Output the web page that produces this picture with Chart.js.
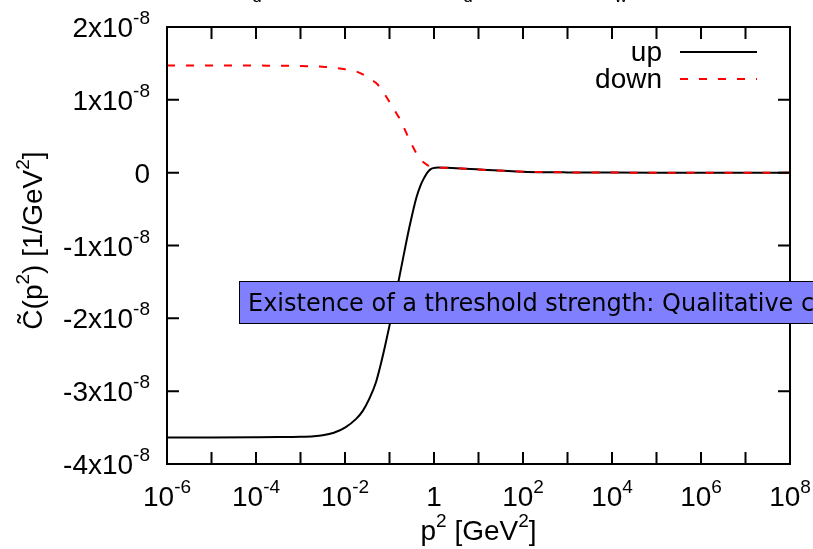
<!DOCTYPE html>
<html>
<head>
<meta charset="utf-8">
<script src="https://cdn.jsdelivr.net/npm/chart.js@4/dist/chart.umd.min.js"></script>
<style>
  html, body { margin: 0; padding: 0; background: #fff; }
  #wrap { width: 813px; height: 549px; overflow: hidden; }
</style>
</head>
<body>
<div id="wrap"><canvas id="chart" width="813" height="549"></canvas></div>
<script>
// sample positions, log10 of p^2 [GeV^2]
const logP2 = [-6, -5, -4, -3.5, -3, -2.7, -2.5, -2.25, -2, -1.75, -1.6, -1.45, -1.3, -1.2, -1.1, -1,
  -0.9, -0.8, -0.7, -0.55, -0.4, -0.3, -0.22, -0.15, -0.08, -0.02, 0.1, 0.3, 0.7, 1.2, 2, 2.5, 3, 4, 5, 6, 7, 8];
// C~(p^2) in units of 1e-8 / GeV^2
const upValues = [-3.635, -3.635, -3.633, -3.631, -3.626, -3.618, -3.605, -3.57, -3.5, -3.38, -3.27, -3.1,
  -2.87, -2.64, -2.38, -2.10, -1.81, -1.50, -1.19, -0.74, -0.35, -0.17, -0.07, 0.0, 0.045, 0.062, 0.07, 0.066, 0.055,
  0.037, 0.014, 0.007, 0.004, 0.001, 0, 0, 0, 0];
const downValues = [1.47, 1.47, 1.47, 1.468, 1.465, 1.46, 1.455, 1.44, 1.42, 1.39, 1.35, 1.29,
  1.23, 1.16, 1.07, 0.97, 0.87, 0.77, 0.65, 0.45, 0.27, 0.18, 0.135, 0.105, 0.085, 0.075, 0.07, 0.066, 0.055,
  0.037, 0.014, 0.007, 0.004, 0.001, 0, 0, 0, 0];

const seriesNames = ["up", "down"];
const xTickExponents = [-6, -4, -2, 0, 2, 4, 6, 8];
const xMinorExponents = [-6, -5, -4, -3, -2, -1, 0, 1, 2, 3, 4, 5, 6, 7, 8];
const yTickValues = [-4, -3, -2, -1, 0, 1, 2];
const yExponent = "-8";
const boxText = "Existence of a threshold strength: Qualitative c";
const titleBits = ["d", "d", "w"];

const FONT = '"Liberation Sans", Arial, sans-serif';
const BIG = "28px " + FONT;
const SUP = "19px " + FONT;

// base text with a raised exponent; align: 'right' | 'center'
function drawPow(ctx, base, exp, x, y, align) {
    ctx.font = BIG;
    const wb = ctx.measureText(base).width;
    ctx.font = SUP;
    const we = exp ? ctx.measureText(exp).width : 0;
    const w = wb + we;
    let x0 = x;
    if (align === "right") x0 = x - w;
    if (align === "center") x0 = x - w / 2;
    ctx.textAlign = "left";
    ctx.textBaseline = "alphabetic";
    ctx.font = BIG;
    ctx.fillText(base, x0, y);
    if (exp) {
        ctx.font = SUP;
        ctx.fillText(exp, x0 + wb, y - 13);
    }
}

// runs of [text, isSuperscript], centred on x
function drawRuns(ctx, runs, x, y) {
    let w = 0;
    runs.forEach(r => {
        ctx.font = r[1] ? SUP : BIG;
        w += ctx.measureText(r[0]).width;
    });
    let cx = x - w / 2;
    ctx.textAlign = "left";
    ctx.textBaseline = "alphabetic";
    runs.forEach(r => {
        ctx.font = r[1] ? SUP : BIG;
        ctx.fillText(r[0], cx, r[1] ? y - 13 : y);
        cx += ctx.measureText(r[0]).width;
    });
}

const framePlugin = {
    id: "frame",
    afterDraw(chart) {
        const ctx = chart.ctx;
        const a = chart.chartArea;
        const xs = chart.scales.x, ys = chart.scales.y;
        ctx.save();
        ctx.fillStyle = "#000";
        ctx.strokeStyle = "#000";

        // title remnants cut off at the top edge
        ctx.font = "17px " + FONT;
        ctx.textAlign = "center";
        ctx.textBaseline = "alphabetic";
        [257, 468, 621].forEach((px, i) => ctx.fillText(titleBits[i], px, 2));

        // frame
        ctx.lineWidth = 2;
        ctx.strokeRect(a.left, a.top, a.right - a.left, a.bottom - a.top);

        // ticks, inward, mirrored
        ctx.beginPath();
        xMinorExponents.forEach(e => {
            const px = xs.getPixelForValue(Math.pow(10, e));
            ctx.moveTo(px, a.bottom); ctx.lineTo(px, a.bottom - 12);
            ctx.moveTo(px, a.top); ctx.lineTo(px, a.top + 12);
        });
        yTickValues.forEach(v => {
            const py = ys.getPixelForValue(v);
            ctx.moveTo(a.left, py); ctx.lineTo(a.left + 12, py);
            ctx.moveTo(a.right, py); ctx.lineTo(a.right - 12, py);
        });
        ctx.stroke();

        // x tick labels
        xTickExponents.forEach(e => {
            const px = xs.getPixelForValue(Math.pow(10, e));
            if (e === 0) drawPow(ctx, "1", "", px, a.bottom + 42, "center");
            else drawPow(ctx, "10", String(e), px, a.bottom + 42, "center");
        });

        // y tick labels
        yTickValues.forEach(v => {
            const py = ys.getPixelForValue(v);
            if (v === 0) drawPow(ctx, "0", "", 150, py + 10, "right");
            else drawPow(ctx, v + "x10", yExponent, 150, py + 10, "right");
        });

        // axis titles
        drawRuns(ctx, [["p", 0], ["2", 1], [" [GeV", 0], ["2", 1], ["]", 0]], (a.left + a.right) / 2, 540);
        ctx.save();
        ctx.translate(42, (a.top + a.bottom) / 2 - 5);
        ctx.rotate(-Math.PI / 2);
        drawRuns(ctx, [["C\u0303(p", 0], ["2", 1], [") [1/GeV", 0], ["2", 1], ["]", 0]], 0, 0);
        ctx.restore();

        // legend
        ctx.font = BIG;
        ctx.fillStyle = "#000";
        ctx.textAlign = "right";
        ctx.textBaseline = "alphabetic";
        ctx.fillText(seriesNames[0], 662, 61);
        ctx.fillText(seriesNames[1], 662, 88);
        ctx.lineWidth = 2;
        ctx.strokeStyle = "#000";
        ctx.beginPath(); ctx.moveTo(680, 52); ctx.lineTo(757, 52); ctx.stroke();
        ctx.strokeStyle = "#ff0000";
        ctx.setLineDash([8, 11]);
        ctx.beginPath(); ctx.moveTo(680, 79); ctx.lineTo(757, 79); ctx.stroke();
        ctx.setLineDash([]);

        // annotation box
        ctx.fillStyle = "#8080ff";
        ctx.fillRect(239.5, 281.5, 620, 42);
        ctx.strokeStyle = "#000";
        ctx.lineWidth = 1;
        ctx.strokeRect(239.5, 281.5, 620, 42);
        ctx.fillStyle = "#000";
        ctx.font = '24px "DejaVu Sans", sans-serif';
        ctx.textAlign = "left";
        ctx.fillText(boxText, 248, 311);
        ctx.restore();
    }
};

const ctx = document.getElementById("chart").getContext("2d");
new Chart(ctx, {
    type: "line",
    data: {
        datasets: [{
            label: seriesNames[0],
            data: logP2.map((e, i) => ({ x: Math.pow(10, e), y: upValues[i] })),
            borderColor: "#000",
            borderWidth: 2,
            pointRadius: 0,
            cubicInterpolationMode: "monotone",
            order: 2
        }, {
            label: seriesNames[1],
            data: logP2.map((e, i) => ({ x: Math.pow(10, e), y: downValues[i] })),
            borderColor: "#ff0000",
            borderWidth: 2,
            borderDash: [8, 11],
            pointRadius: 0,
            cubicInterpolationMode: "monotone",
            order: 1
        }]
    },
    options: {
        responsive: false,
        animation: false,
        layout: { padding: { left: 167, top: 27, right: 23, bottom: 85 } },
        plugins: { legend: { display: false }, tooltip: { enabled: false } },
        scales: {
            x: {
                type: "logarithmic", min: 1e-6, max: 1e8,
                ticks: { display: false }, grid: { display: false }, border: { display: false },
                afterFit: s => { s.height = 0; }
            },
            y: {
                type: "linear", min: -4, max: 2,
                ticks: { display: false }, grid: { display: false }, border: { display: false },
                afterFit: s => { s.width = 0; }
            }
        }
    },
    plugins: [framePlugin]
});
</script>
</body>
</html>
